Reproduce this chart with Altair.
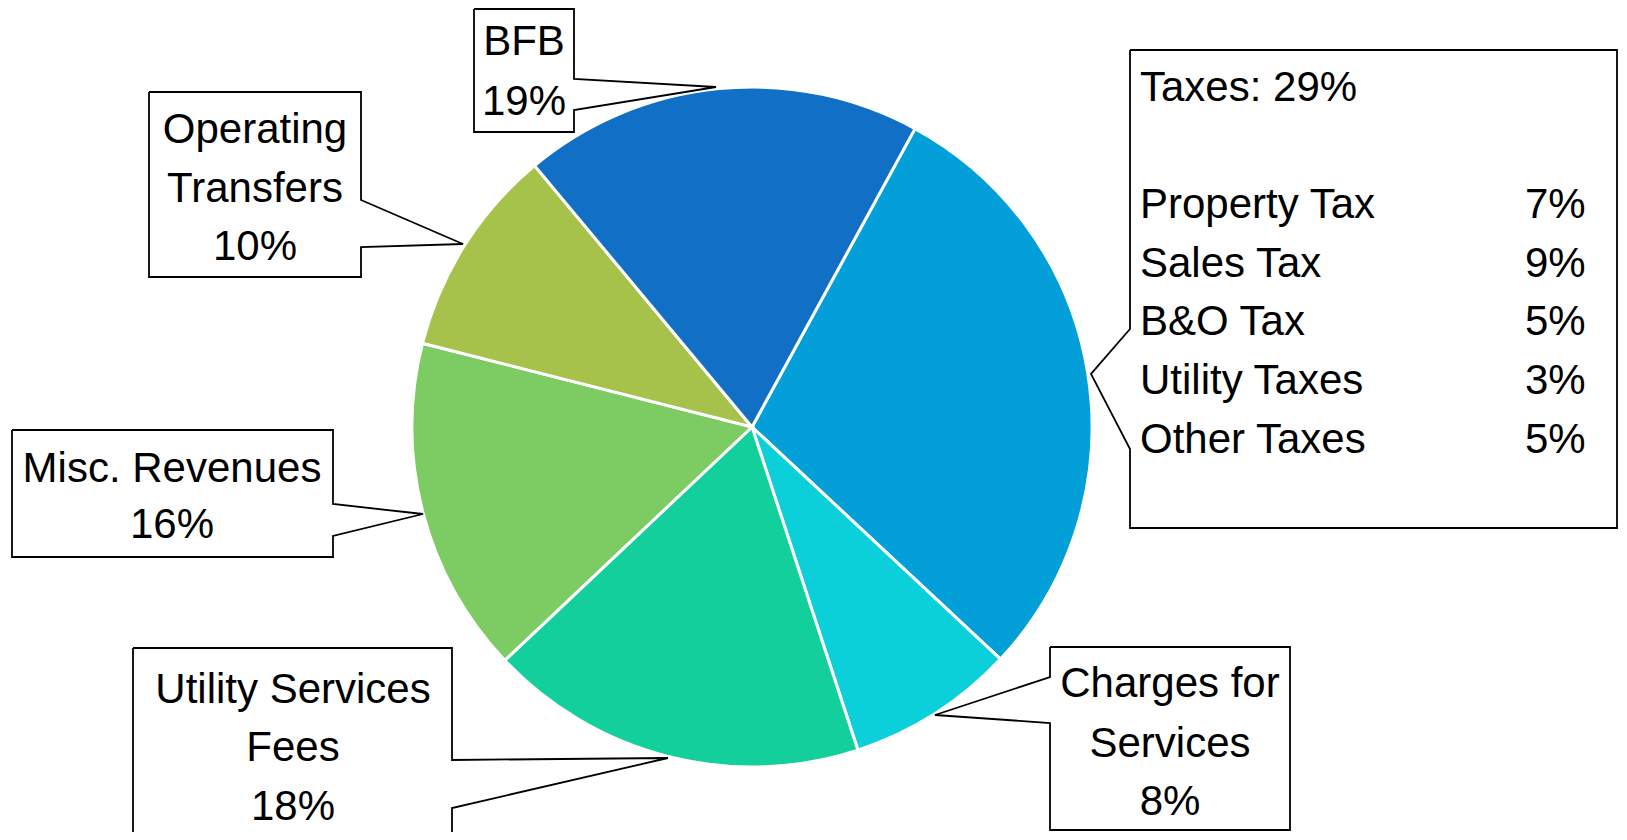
import math
import altair as alt
import pandas as pd

# ---------------- data ----------------
categories = ["Taxes", "Charges for Services", "Utility Services Fees",
              "Misc. Revenues", "Operating Transfers", "BFB"]
shares = [29, 8, 18, 16, 10, 19]
colors = ["#039FD8", "#0BD0D9", "#13CF9B", "#7DCB63", "#A6C24A", "#116FC6"]

tax_items = ["Property Tax", "Sales Tax", "B&O Tax", "Utility Taxes", "Other Taxes"]
tax_shares = [7, 9, 5, 3, 5]

# label lines per callout (category shown as wrapped text)
label_lines = {
    "BFB": ["BFB"],
    "Operating Transfers": ["Operating", "Transfers"],
    "Misc. Revenues": ["Misc. Revenues"],
    "Utility Services Fees": ["Utility Services", "Fees"],
    "Charges for Services": ["Charges for", "Services"],
}

# ---------------- layout (page pixel space) ----------------
W, H = 1611, 824
XDOM = [8, 8 + W]
YDOM = [8, 8 + H]
CX, CY, R = 752, 427, 340
START = math.radians(28.65)

# callout boxes: x0, y0, x1, y1, side, pointer base a, b, tip x, tip y, text center x, baselines
callouts = {
    "BFB": dict(x0=474, y0=9, x1=574, y1=132, side="right", pa=79, pb=110,
                tx=716, ty=87, cx=524, base=[55, 115]),
    "Operating Transfers": dict(x0=149, y0=92, x1=361, y1=277, side="right", pa=200, pb=247,
                                tx=463, ty=244, cx=255, base=[143, 202, 260]),
    "Misc. Revenues": dict(x0=12, y0=430, x1=333, y1=557, side="right", pa=504, pb=536,
                           tx=423, ty=514, cx=172, base=[482, 538]),
    "Utility Services Fees": dict(x0=133, y0=648, x1=452, y1=900, side="right", pa=760, pb=808,
                                  tx=668, ty=758, cx=293, base=[703, 761, 820]),
    "Charges for Services": dict(x0=1050, y0=647, x1=1290, y1=830, side="left", pa=677, pb=723,
                                 tx=935, ty=715, cx=1170, base=[697, 757, 815]),
    "Taxes": dict(x0=1130, y0=50, x1=1617, y1=528, side="left", pa=329, pb=449,
                  tx=1091, ty=374, cx=None, base=None),
}

xs = alt.Scale(domain=XDOM, zero=False, nice=False)
ys = alt.Scale(domain=YDOM, zero=False, nice=False, reverse=True)

# ---------------- pie ----------------
pie_df = pd.DataFrame({
    "category": categories, "value": shares, "idx": list(range(len(categories))),
    "cx": [CX] * len(categories), "cy": [CY] * len(categories),
})
pie = alt.Chart(pie_df).mark_arc(outerRadius=R, stroke="white", strokeWidth=3).encode(
    x=alt.X("cx:Q", scale=xs, axis=None),
    y=alt.Y("cy:Q", scale=ys, axis=None),
    theta=alt.Theta("value:Q", stack=True, scale=alt.Scale(range=[START, START + 2 * math.pi])),
    order=alt.Order("idx:Q"),
    color=alt.Color("category:N", scale=alt.Scale(domain=categories, range=colors), legend=None),
)

# ---------------- callout shapes ----------------
rows = []
for name, c in callouts.items():
    x0, y0, x1, y1 = c["x0"], c["y0"], c["x1"], c["y1"]
    if c["side"] == "right":
        pts = [(x0, y0), (x1, y0), (x1, c["pa"]), (c["tx"], c["ty"]), (x1, c["pb"]),
               (x1, y1), (x0, y1), (x0, y0)]
    else:
        pts = [(x0, y0), (x1, y0), (x1, y1), (x0, y1), (x0, c["pb"]), (c["tx"], c["ty"]),
               (x0, c["pa"]), (x0, y0)]
    for k, (px, py) in enumerate(pts):
        rows.append({"name": name, "k": k, "px": px, "py": py})
shape_df = pd.DataFrame(rows)
shapes = alt.Chart(shape_df).mark_line(stroke="black", strokeWidth=1.8, fill="white",
                                       strokeJoin="miter").encode(
    x=alt.X("px:Q", scale=xs, axis=None),
    y=alt.Y("py:Q", scale=ys, axis=None),
    order=alt.Order("k:Q"),
    detail="name:N",
)

# ---------------- texts ----------------
center_rows = []
for cat, share in zip(categories, shares):
    if cat == "Taxes":
        continue
    c = callouts[cat]
    lines = label_lines[cat] + [f"{share}%"]
    for line, b in zip(lines, c["base"]):
        center_rows.append({"t": line, "tx": c["cx"], "ty": b})

left_rows = []
tax_total = shares[categories.index("Taxes")]
left_rows.append({"t": f"Taxes: {tax_total}%", "tx": 1140, "ty": 101})
for i, (item, s) in enumerate(zip(tax_items, tax_shares)):
    b = 218 + 58.7 * i
    left_rows.append({"t": item, "tx": 1140, "ty": b})
    left_rows.append({"t": f"{s}%", "tx": 1525, "ty": b})

FONT = "Liberation Sans"
FS = 42
ctext = alt.Chart(pd.DataFrame(center_rows)).mark_text(
    font=FONT, fontSize=FS, align="center", baseline="alphabetic", color="black").encode(
    x=alt.X("tx:Q", scale=xs, axis=None), y=alt.Y("ty:Q", scale=ys, axis=None), text="t:N")
ltext = alt.Chart(pd.DataFrame(left_rows)).mark_text(
    font=FONT, fontSize=FS, align="left", baseline="alphabetic", color="black").encode(
    x=alt.X("tx:Q", scale=xs, axis=None), y=alt.Y("ty:Q", scale=ys, axis=None), text="t:N")

chart = alt.layer(pie, shapes, ctext, ltext).properties(
    width=W, height=H, padding=0, autosize="none"
).configure_view(stroke=None)

chart.save("out.html", embed_options={"renderer": "svg", "actions": False})
